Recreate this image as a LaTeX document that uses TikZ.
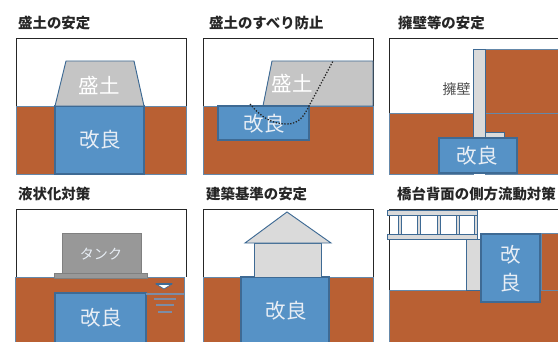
\documentclass[tikz,border=0pt]{standalone}
\usepackage{fontspec}
\newfontfamily\jp{Noto Sans CJK JP}
\usepackage{tikz}
\usetikzlibrary{positioning}

\definecolor{tsuchi}{RGB}{185,96,51}
\definecolor{kairyoao}{RGB}{86,146,198}
\definecolor{fuchi}{RGB}{62,106,148}
\definecolor{morihai}{RGB}{197,197,197}
\definecolor{kabehai}{RGB}{218,218,218}
\definecolor{tankhai}{RGB}{152,152,152}
\definecolor{mojishiro}{RGB}{232,238,245}
\definecolor{mizusen}{RGB}{125,140,165}

\begin{document}
\begin{tikzpicture}[x=0.03cm,y=-0.03cm,
        frame/.style = {draw=black!85,line width=0.8pt},
        soil/.style = {fill=tsuchi,draw=fuchi!80,line width=0.6pt},
        kairyo/.style = {fill=kairyoao,draw=fuchi,line width=1.2pt},
        mori/.style = {fill=morihai,draw=fuchi,line width=0.8pt},
        kabe/.style = {fill=kabehai,draw=fuchi,line width=0.8pt},
        title/.style = {anchor=west,inner sep=0pt,text=black!85,font=\jp\bfseries\fontsize{12.3}{14}\selectfont},
        naka/.style = {inner sep=0pt,text=mojishiro,font=\jp\fontsize{17.5}{20}\selectfont},
        komoji/.style = {inner sep=0pt,font=\jp\fontsize{12}{14}\selectfont}
        ]
        \useasboundingbox (0,0) rectangle (558,342);
        \clip (0,0) rectangle (558,342);

        %Titel
        \node[title] (t1) at (18,23) {盛土の安定};
        \node[title] (t2) at (209,23) {盛土のすべり防止};
        \node[title] (t3) at (398,23) {擁壁等の安定};
        \node[title] (t4) at (18,194) {液状化対策};
        \node[title] (t5) at (206,194) {建築基準の安定};
        \node[title] (t6) at (397,194) {橋台背面の側方流動対策};

        %Mori-do
        \draw[frame] (16,106) -- (16,38) -- (186,38) -- (186,106);
        \draw[soil] (16,106) rectangle (186,174);
        \draw[kairyo] (55,106) rectangle (144,174);
        \draw[mori] (55,106) -- (66,61) -- (134,61) -- (144,106) -- cycle;
        \node[naka,text=white] (m1) at (99,85) {盛土};
        \node[naka] (k1) at (100,140) {改良};

        %Suberi
        \draw[frame] (203,106) -- (203,38) -- (373,38) -- (373,106);
        \draw[soil] (203,106) rectangle (373,174);
        \draw[mori] (263,106) -- (272,61) -- (373,61) -- (373,106) -- cycle;
        \draw[kairyo] (218,106) rectangle (309,140);
        \node[naka,text=white] (m2) at (292,83) {盛土};
        \node[naka] (k2) at (264,124) {改良};
        \draw[dash pattern=on 1.1pt off 1.4pt,line width=1.1pt,black!85]
            (250,104) .. controls (262,118) and (272,124) .. (287,124)
            .. controls (299,124) and (304,116) .. (309,106) -- (333,61);

        %Youheki
        \draw[frame] (389,113) -- (389,38) -- (560,38);
        \draw[soil] (389,113) rectangle (473,174);
        \draw[soil] (485,49) rectangle (562,113);
        \draw[soil] (485,113) rectangle (562,174);
        \draw[kabe] (473,49) rectangle (485,138);
        \draw[kabe] (485,132) rectangle (504,138);
        \draw[kairyo] (439,138) rectangle (517,173);
        \node[komoji,anchor=east,text=black!70] (yh) at (471,89) {擁壁};
        \node[naka] (k3) at (477,156) {改良};

        %Ekijouka
        \draw[frame] (16,277) -- (16,209) -- (186,209) -- (186,277);
        \draw[soil] (15,277) rectangle (184,345);
        \draw[kairyo] (55,293) rectangle (146,345);
        \draw[mizusen,line width=1.1pt] (146,294) -- (184,294);
        \draw[fill=tankhai,draw=black!50,line width=0.8pt] (62,233) rectangle (141,273);
        \draw[fill=tankhai,draw=black!50,line width=0.8pt] (54,273) rectangle (147,278);
        \node[komoji,text=mojishiro] (tk) at (101,254) {タンク};
        \node[naka] (k4) at (101,318) {改良};
        % suii
        \draw[fill=white,draw=fuchi,line width=0.6pt] (156,284) -- (172,284) -- (164,289) -- cycle;
        \draw[fuchi,line width=1.4pt] (156,284) -- (172,284);
        \foreach \y/\a/\b in {299/154/176,305/156/174,312/158/172}
            \draw[mizusen,line width=1.1pt] (\a,\y) -- (\b,\y);

        %Kenchiku
        \draw[frame] (203,277) -- (203,209) -- (373,209) -- (373,277);
        \draw[soil] (203,277) rectangle (373,345);
        \draw[kairyo] (241,277) rectangle (329,345);
        \draw[kabe] (254,243) rectangle (321,277);
        \draw[kabe] (245,243) -- (287,212) -- (331,243) -- cycle;
        \node[naka] (k5) at (286,311) {改良};

        %Kyoudai
        \draw[frame] (389,290) -- (389,209) -- (560,209);
        \draw[soil] (389,290) rectangle (562,345);
        \draw[soil] (541,233) rectangle (562,290);
        \draw[kabe] (466,239) rectangle (481,290);
        \draw[kairyo] (481,234) rectangle (540,302);
        \draw[kabe] (387,210) rectangle (477,215);
        \draw[kabe] (387,234) rectangle (477,239);
        \foreach \x in {398,417,437,456,474}
            \draw[kabe] (\x,215) rectangle (\x+3,234);
        \node[naka] (k6a) at (511,255) {改};
        \node[naka] (k6b) at (511,283) {良};

\end{tikzpicture}
\end{document}
